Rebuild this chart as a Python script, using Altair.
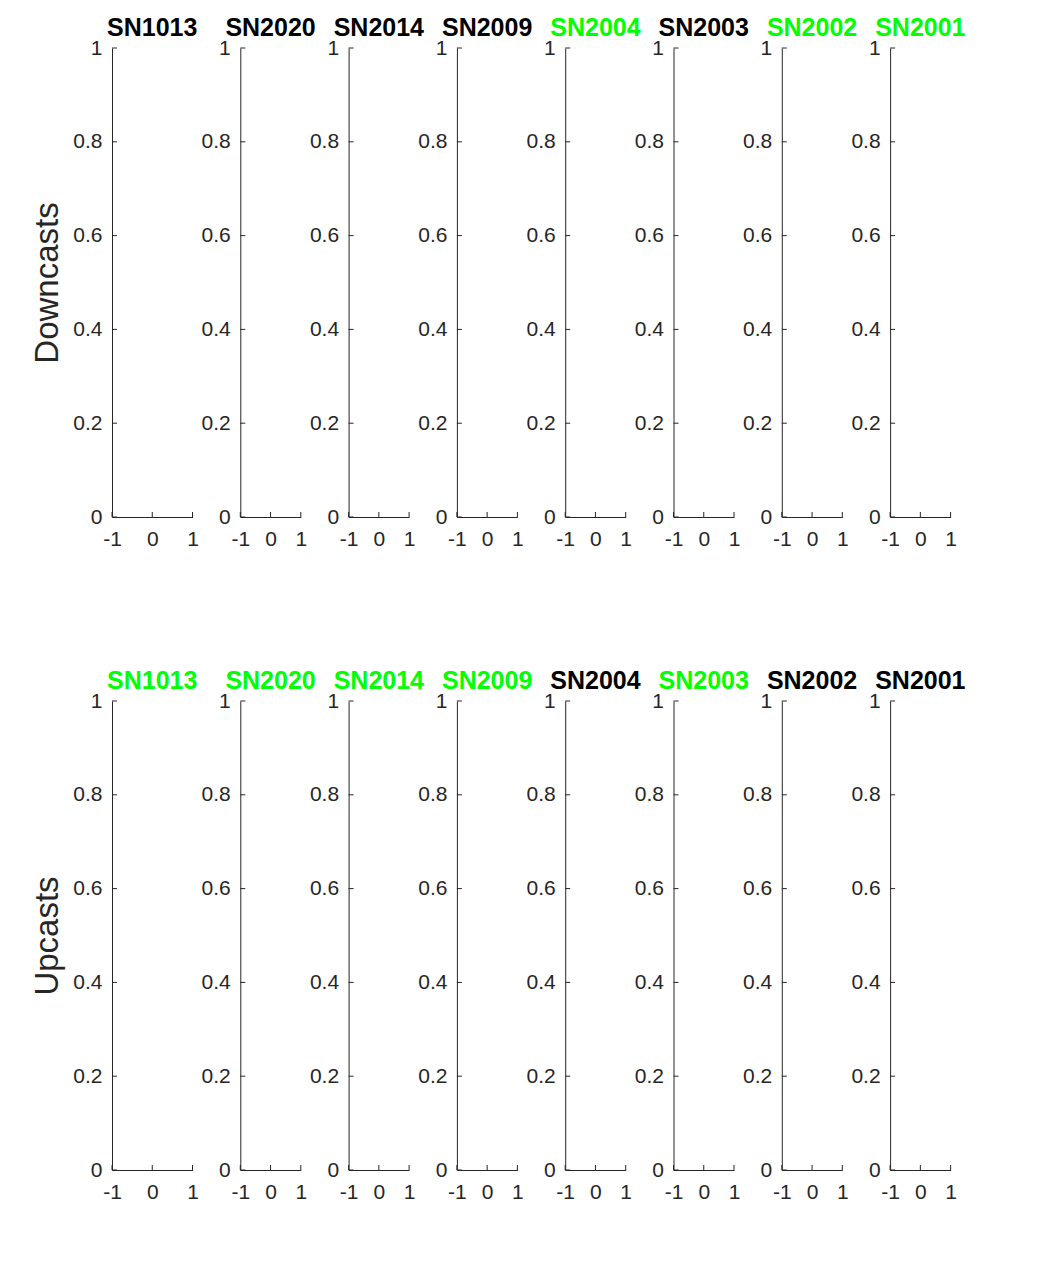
import altair as alt
import pandas as pd

sensors = ["SN1013", "SN2020", "SN2014", "SN2009", "SN2004", "SN2003", "SN2002", "SN2001"]
GREEN = "#00FF00"
BLACK = "#000000"
down_colors = [BLACK, BLACK, BLACK, BLACK, GREEN, BLACK, GREEN, GREEN]
up_colors = [GREEN, GREEN, GREEN, GREEN, BLACK, GREEN, BLACK, BLACK]
row_labels = ["Downcasts", "Upcasts"]
y_ticks = [0, 0.2, 0.4, 0.6, 0.8, 1]
x_ticks = [-1, 0, 1]

FONT = "Liberation Sans"
AX = "#262626"
H = 469
TICK = 5


def panel(name, color, width, ylabel=""):
    ydf = pd.DataFrame({"v": y_ticks})
    xdf = pd.DataFrame({"v": x_ticks})
    yaxis = alt.Axis(values=y_ticks, labelExpr="toString(datum.value)", ticks=False,
                     grid=False, labelPadding=10, labelFontSize=21, labelColor=AX,
                     labelFlush=False, domainColor=AX, domainWidth=1, title=ylabel,
                     titleFontSize=33, titleFontWeight="normal", titleColor=AX,
                     titlePadding=8, labelFont=FONT, titleFont=FONT)
    xaxis = alt.Axis(values=x_ticks, labelExpr="toString(datum.value)", ticks=False,
                     grid=False, labelPadding=11, labelFontSize=21, labelColor=AX,
                     labelFlush=False, labelOverlap=False, domainColor=AX, domainWidth=1,
                     title="", labelFont=FONT)
    ylayer = alt.Chart(ydf).mark_rule(color=AX, strokeWidth=1).encode(
        y=alt.Y("v:Q", scale=alt.Scale(domain=[0, 1], nice=False, zero=False), axis=yaxis),
        x=alt.value(0), x2=alt.value(TICK))
    xlayer = alt.Chart(xdf).mark_rule(color=AX, strokeWidth=1).encode(
        x=alt.X("v:Q", scale=alt.Scale(domain=[-1, 1], nice=False, zero=False), axis=xaxis),
        y=alt.value(H), y2=alt.value(H - TICK))
    return alt.layer(ylayer, xlayer).properties(
        width=width, height=H,
        title=alt.TitleParams(text=name, color=color, fontSize=25, fontWeight="bold",
                              font=FONT, anchor="middle", frame="group",
                              baseline="alphabetic", offset=-24))


panels = []
for colors, label in zip([down_colors, up_colors], row_labels):
    for i, (s, c) in enumerate(zip(sensors, colors)):
        if i == 0:
            panels.append(panel(s, c, 80.5, label))
        else:
            panels.append(panel(s, c, 60.5))

chart = alt.concat(*panels, columns=8, spacing={"column": 47.3, "row": 184},
                   bounds="flush").properties(
    padding={"left": 31, "top": 16, "right": 10, "bottom": 10},
    background="white").configure(font=FONT).configure_view(strokeWidth=0)

chart.save("out.html", embed_options={"renderer": "svg", "actions": False})
